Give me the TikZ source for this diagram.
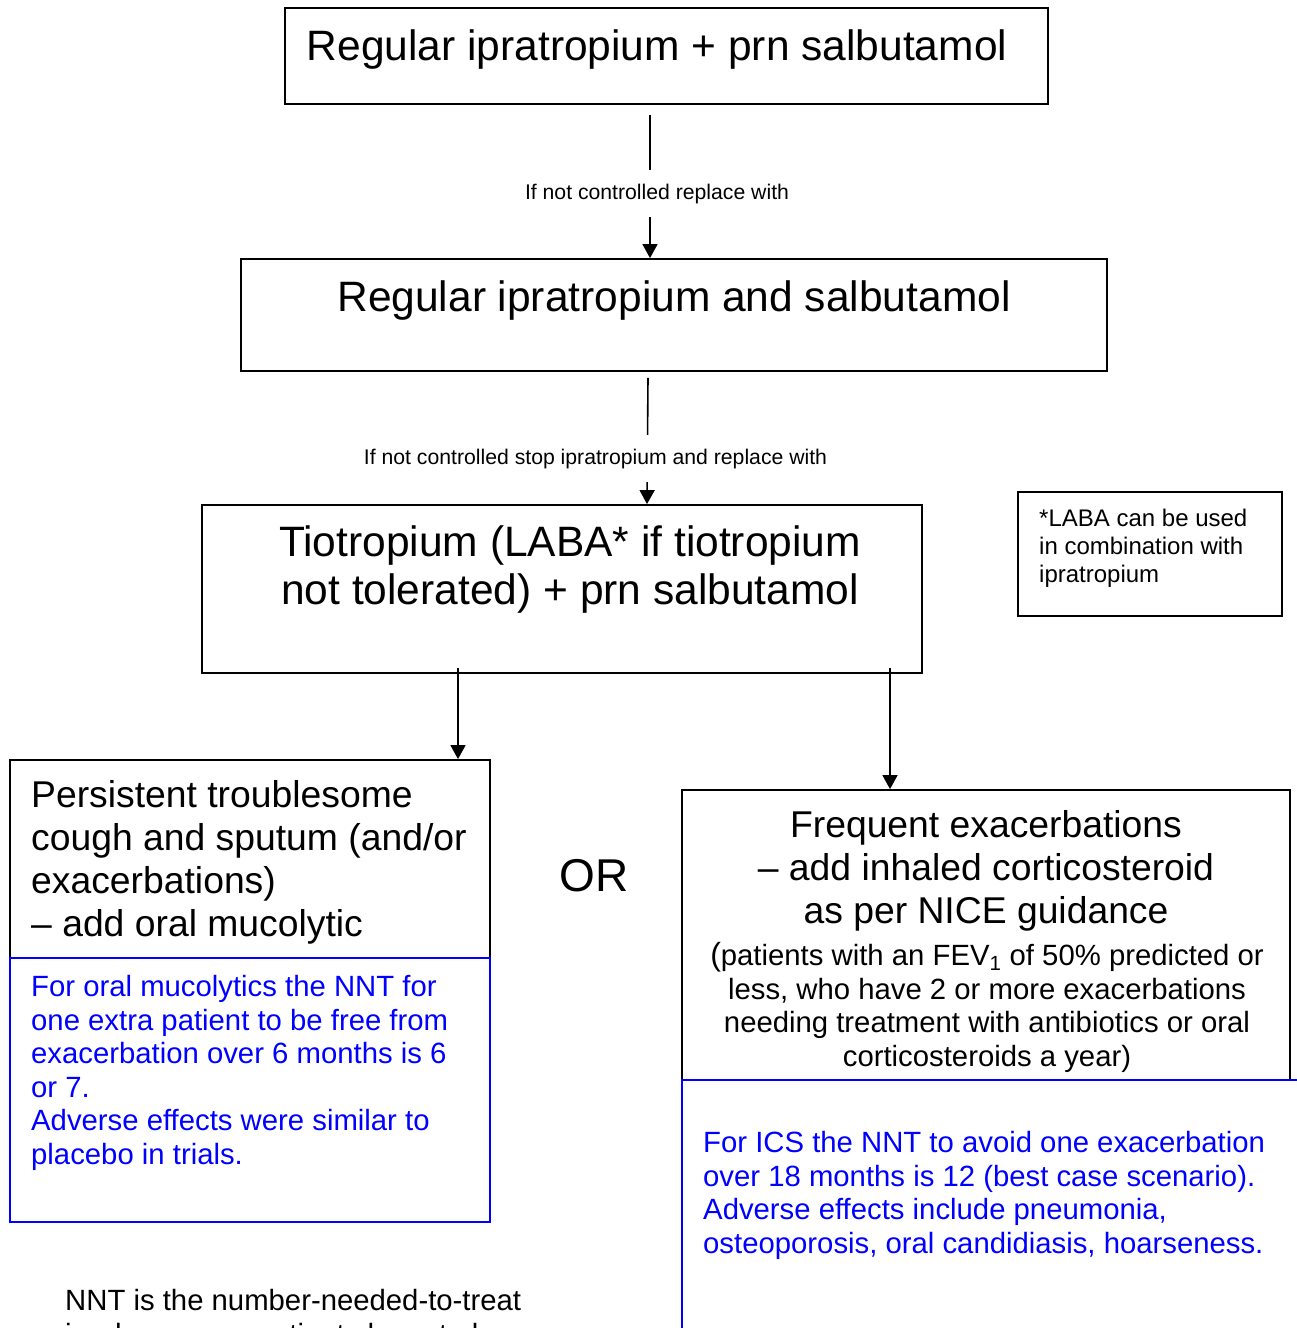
\documentclass[tikz,border=0pt]{standalone}
\usepackage{fontspec}
\setmainfont{Liberation Sans}
\usetikzlibrary{arrows.meta, positioning}
\definecolor{nntblue}{RGB}{0,0,255}

\begin{document}
\begin{tikzpicture}[x=1pt, y=-1pt,
  box/.style={draw, line width=1.8pt, inner sep=0pt},
  bluebox/.style={draw=nntblue, line width=1.8pt, inner sep=0pt},
  arr/.style={-{Triangle[width=15pt,length=14pt]}, line width=1.6pt},
  lbl/.style={fill=white, font=\fontsize{21.2}{24}\selectfont, inner xsep=4pt, inner ysep=14pt},
  big/.style={font=\fontsize{42.5}{48}\selectfont, inner sep=0pt},
  mid/.style={font=\fontsize{37.3}{43}\selectfont, inner sep=0pt},
  small/.style={font=\fontsize{29.3}{33.6}\selectfont, inner sep=0pt}]
  \useasboundingbox (0,0) rectangle (1297,1328);

  \node[box, minimum width=763pt, minimum height=96pt] (reg) at (666.5,56) {};
  \node[box, minimum width=866pt, minimum height=112pt] (both) at (674,315) {};
  \node[box, minimum width=720pt, minimum height=168pt] (tio) at (562,589) {};
  \node[box, minimum width=264pt, minimum height=124pt] (laba) at (1150,554) {};
  \node[box, minimum width=480pt, minimum height=198pt] (muc) at (250,859) {};
  \node[box, minimum width=608pt, minimum height=290pt] (freq) at (986,935) {};
  \node[bluebox, minimum width=480pt, minimum height=264pt] (mucnnt) at (250,1090) {};
  \node[bluebox, minimum width=630pt, minimum height=270pt] (freqnnt) at (997,1215) {};

  \draw[arr] ([xshift=-16.5pt,yshift=-10pt]reg.south) -- ([xshift=-24pt]both.north);
  \draw[arr] ([xshift=-26pt,yshift=-6pt]both.south) -- ([xshift=85pt]tio.north);
  \draw[arr] ([xshift=-104pt,yshift=6pt]tio.south) -- ([xshift=208pt]muc.north);
  \draw[arr] ([xshift=328pt,yshift=6pt]tio.south) -- ([xshift=-96pt]freq.north);
  \node[lbl, anchor=base] (lab1) at (657,199) {If not controlled replace with};
  \node[lbl, anchor=base] (lab2) at (595.5,464) {If not controlled stop ipratropium and replace with};

  \node[big, anchor=base] (regt) at (657,60) {Regular ipratropium + prn salbutamol};
  \node[big, anchor=base] (botht) at (674,311) {Regular ipratropium and salbutamol};
  \node[big, anchor=north, align=center] (tiot) at (570,525)
    {Tiotropium (LABA* if tiotropium\\not tolerated) + prn salbutamol};
  \node[anchor=north west, align=left, inner sep=0pt, font=\fontsize{24}{28}\selectfont] (labat) at (1039,509)
    {*LABA can be used\\in combination with\\ipratropium};

  \node[mid, anchor=north west, align=left] (muct) at (31,780)
    {Persistent troublesome\\cough and sputum (and/or\\exacerbations)\\-- add oral mucolytic};
  \node[small, anchor=north west, align=left, text=nntblue] (mucnntt) at (31,975)
    {For oral mucolytics the NNT for\\one extra patient to be free from\\exacerbation over 6 months is 6\\or 7.\\Adverse effects were similar to\\placebo in trials.};

  \node[anchor=base, inner sep=0pt, font=\fontsize{46}{50}\selectfont] (or) at (594,891) {OR};

  \node[mid, anchor=north, align=center] (freqt) at (986,810)
    {Frequent exacerbations\\-- add inhaled corticosteroid\\as per NICE guidance};
  \node[small, anchor=north, align=center] (freqs) at (987,942)
    {{\fontsize{32}{33.6}\selectfont(}patients with an FEV\textsubscript{1} of 50\% predicted or\\less, who have 2 or more exacerbations\\needing treatment with antibiotics or oral\\corticosteroids a year)};
  \node[small, anchor=north west, align=left, text=nntblue] (freqnntt) at (703,1131)
    {For ICS the NNT to avoid one exacerbation\\over 18 months is 12 (best case scenario).\\Adverse effects include pneumonia,\\osteoporosis, oral candidiasis, hoarseness.};

  \node[small, anchor=north west, align=left] (nnt) at (65,1289)
    {NNT is the number-needed-to-treat\\i.e. how many patients have to be};
\end{tikzpicture}
\end{document}
